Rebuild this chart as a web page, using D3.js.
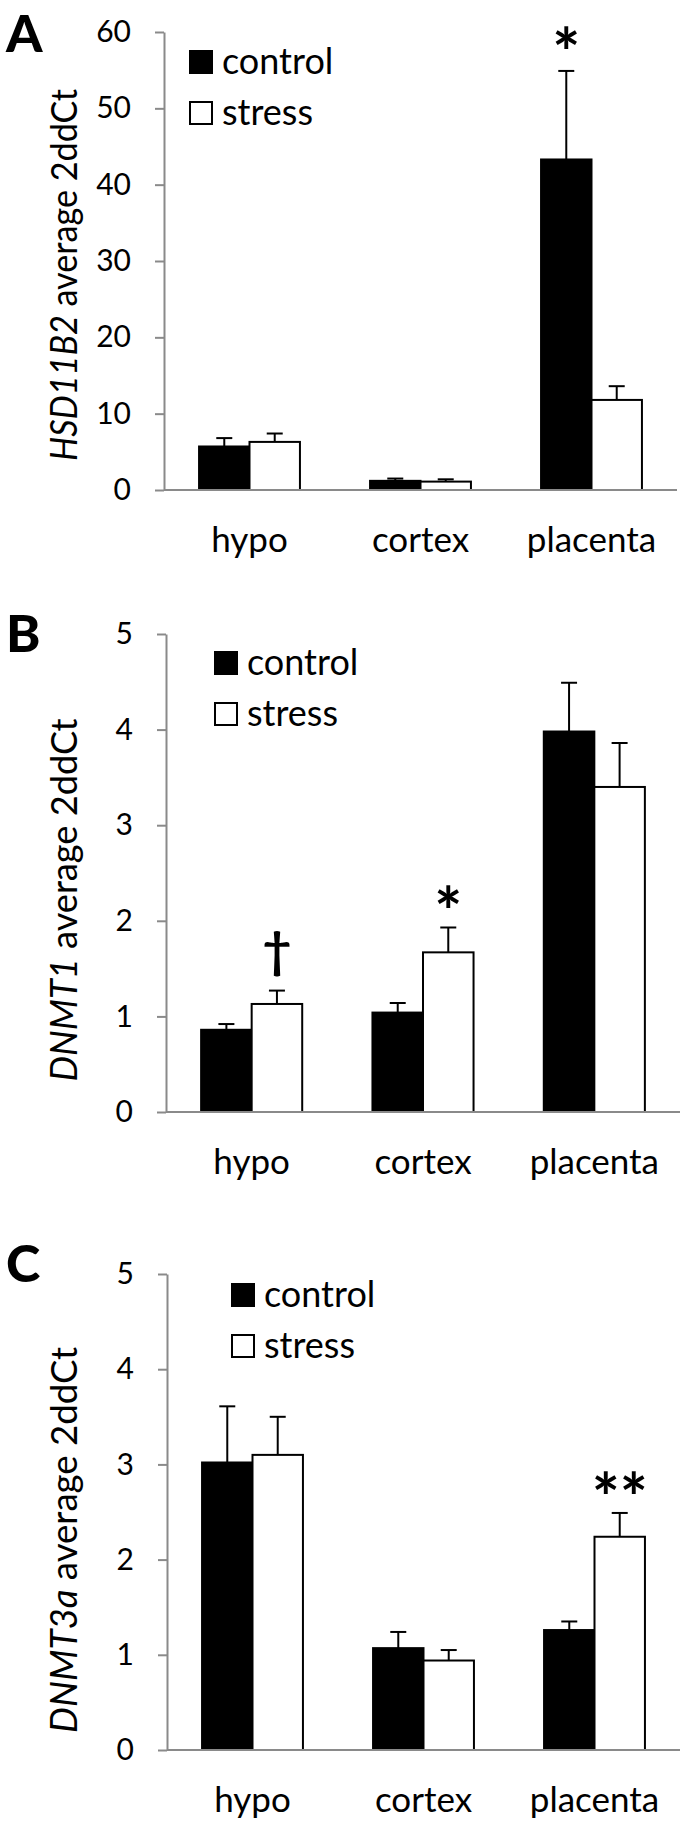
<!DOCTYPE html>
<html>
<head>
<meta charset="utf-8">
<script src="https://cdn.jsdelivr.net/npm/d3@7"></script>
<style>
  body { margin: 0; background: white; }
  text { font-family: Lato, "Open Sans", sans-serif; }
</style>
</head>
<body>
<script>
// data
const categories = ["hypo", "cortex", "placenta"]
const groups = ["control", "stress"]

// A: HSD11B2
const hsdControl    = [5.7, 1.2, 43.3]
const hsdControlErr = [1.1, 0.3, 11.6]
const hsdStress     = [6.3, 1.1, 11.8]
const hsdStressErr  = [1.1, 0.3, 1.8]
const hsdTicks      = [0, 10, 20, 30, 40, 50, 60]

// B: DNMT1
const dnmt1Control    = [0.86, 1.04, 3.98]
const dnmt1ControlErr = [0.06, 0.10, 0.51]
const dnmt1Stress     = [1.13, 1.67, 3.40]
const dnmt1StressErr  = [0.14, 0.26, 0.46]

// C: DNMT3a
const dnmt3aControl    = [3.02, 1.07, 1.26]
const dnmt3aControlErr = [0.59, 0.17, 0.09]
const dnmt3aStress     = [3.10, 0.94, 2.24]
const dnmt3aStressErr  = [0.40, 0.11, 0.25]
const dnmtTicks        = [0, 1, 2, 3, 4, 5]

// significance marks: [category, group, text, value at the mark's centre]
const hsdMarks    = [["placenta", "control", "*", 59.1]]
const dnmt1Marks  = [["hypo", "stress", "†", 1.65], ["cortex", "stress", "*", 2.24]]
const dnmt3aMarks = [["placenta", "stress", "**", 2.79]]

const colors = {
    axis: "#8a8a8a",
    black: "black",
    white: "white"
}

// layout of the three panels
const panels = [
    { letter: "A", gene: "HSD11B2", control: hsdControl, controlErr: hsdControlErr, stress: hsdStress, stressErr: hsdStressErr,
      ticks: hsdTicks, marks: hsdMarks, top: 32, bottom: 490, left: 164, right: 677, letterY: 52,
      legendX: 189, legendY: 50, titleY: 275, titleLen: 372 },
    { letter: "B", gene: "DNMT1", control: dnmt1Control, controlErr: dnmt1ControlErr, stress: dnmt1Stress, stressErr: dnmt1StressErr,
      ticks: dnmtTicks, marks: dnmt1Marks, top: 634, bottom: 1112, left: 166, right: 680, letterY: 652,
      legendX: 214, legendY: 651, titleY: 900, titleLen: 363 },
    { letter: "C", gene: "DNMT3a", control: dnmt3aControl, controlErr: dnmt3aControlErr, stress: dnmt3aStress, stressErr: dnmt3aStressErr,
      ticks: dnmtTicks, marks: dnmt3aMarks, top: 1274, bottom: 1750, left: 167, right: 680, letterY: 1282,
      legendX: 231, legendY: 1283, titleY: 1540, titleLen: 386 }
]

const [width, height] = [688, 1826]

const svg = d3.select("body")
    .append("svg")
        .attr("width", width)
        .attr("height", height)

panels.forEach(p => drawPanel(p))

function drawPanel(p) {
    const g = svg.append("g").attr("id", "panel" + p.letter)

    const x = d3.scaleBand()
        .domain(categories)
        .range([p.left, p.right])
        .paddingInner(0.41)
        .paddingOuter(0.205)
    const xs = d3.scaleBand()
        .domain(groups)
        .range([0, x.bandwidth()])
    const y = d3.scaleLinear()
        .domain([0, d3.max(p.ticks)])
        .range([p.bottom, p.top])
    const cx = (cat, grp) => x(cat) + xs(grp) + xs.bandwidth() / 2

    // y axis
    const yAxis = g.append("g")
        .attr("transform", `translate(${p.left},0)`)
        .call(d3.axisLeft(y).tickValues(p.ticks).tickFormat(d3.format("d"))
            .tickSize(9).tickSizeOuter(0).tickPadding(24))
    yAxis.select(".domain").attr("stroke", colors.axis).attr("stroke-width", 2)
    yAxis.selectAll(".tick line").attr("stroke", colors.axis).attr("stroke-width", 2)
    yAxis.selectAll(".tick text")
        .attr("fill", colors.black)
        .style("font-size", "30px")

    // rows: one per category & group
    const rows = []
    categories.forEach((c, i) => {
        rows.push({ cat: c, grp: "control", v: p.control[i], e: p.controlErr[i] })
        rows.push({ cat: c, grp: "stress", v: p.stress[i], e: p.stressErr[i] })
    })

    // error bars, upper half only
    const err = g.append("g").selectAll("g").data(rows).enter().append("g")
        .attr("stroke", colors.black)
        .attr("stroke-width", 2)
    err.append("line")
        .attr("x1", d => cx(d.cat, d.grp))
        .attr("x2", d => cx(d.cat, d.grp))
        .attr("y1", d => y(d.v))
        .attr("y2", d => y(d.v + d.e))
    err.append("line")
        .attr("x1", d => cx(d.cat, d.grp) - 8)
        .attr("x2", d => cx(d.cat, d.grp) + 8)
        .attr("y1", d => y(d.v + d.e))
        .attr("y2", d => y(d.v + d.e))

    // bars
    g.append("g").selectAll("rect").data(rows).enter().append("rect")
        .attr("x", d => x(d.cat) + xs(d.grp))
        .attr("y", d => y(d.v))
        .attr("width", xs.bandwidth())
        .attr("height", d => y(0) - y(d.v))
        .attr("fill", d => d.grp == "control" ? colors.black : colors.white)
        .attr("stroke", colors.black)
        .attr("stroke-width", 2)

    // x axis line, no ticks
    g.append("line")
        .attr("x1", p.left)
        .attr("x2", p.right)
        .attr("y1", y(0))
        .attr("y2", y(0))
        .attr("stroke", colors.axis)
        .attr("stroke-width", 2)

    // category labels
    g.append("g").selectAll("text").data(categories).enter().append("text")
        .text(d => d)
        .attr("x", d => x(d) + x.bandwidth() / 2)
        .attr("y", y(0) + 62)
        .attr("text-anchor", "middle")
        .style("font-size", "35px")

    // significance marks (glyph centre near the given value)
    g.append("g").selectAll("text").data(p.marks).enter().append("text")
        .text(d => d[2])
        .attr("x", d => cx(d[0], d[1]))
        .attr("y", d => d[2] == "†" ? y(d[3]) + 14 : y(d[3]) + 38)
        .attr("text-anchor", "middle")
        .attr("font-weight", "bold")
        .style("font-size", d => d[2] == "†" ? "50px" : "66px")

    // legend
    const leg = g.append("g").selectAll("g").data(groups).enter().append("g")
        .attr("transform", (d, i) => `translate(${p.legendX},${p.legendY + i * 51})`)
    leg.append("rect")
        .attr("x", 1)
        .attr("y", 1)
        .attr("width", 22)
        .attr("height", 22)
        .attr("fill", d => d == "control" ? colors.black : colors.white)
        .attr("stroke", colors.black)
        .attr("stroke-width", 2)
    leg.append("text")
        .text(d => d)
        .attr("x", 33)
        .attr("y", 24)
        .style("font-size", "36px")

    // y title, gene name in italics
    const title = g.append("text")
        .attr("transform", `translate(77,${p.titleY}) rotate(-90)`)
        .attr("text-anchor", "middle")
        .attr("textLength", p.titleLen)
        .attr("lengthAdjust", "spacingAndGlyphs")
        .style("font-size", "37px")
    title.append("tspan").text(p.gene).style("font-style", "italic")
    title.append("tspan").text(" average 2ddCt")

    // panel letter
    g.append("text")
        .text(p.letter)
        .attr("x", 6)
        .attr("y", p.letterY)
        .attr("font-weight", "900")
        .style("font-size", "52px")
}
</script>
</body>
</html>
